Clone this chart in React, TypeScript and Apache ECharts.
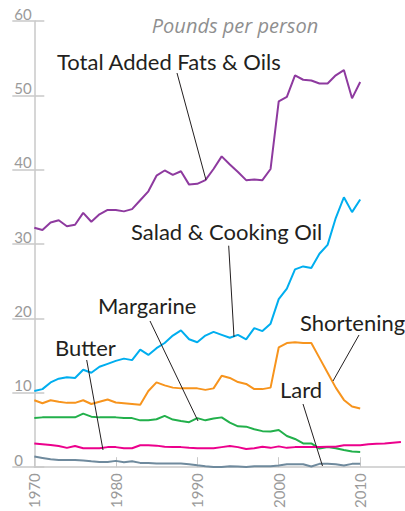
import React, { useEffect, useRef } from "react";
import * as echarts from "echarts";

const startYear = 1970;

const totalFatsOils = [32.2, 31.9, 32.9, 33.2, 32.4, 32.6, 34.2, 33.0, 34.0, 34.6, 34.6, 34.4, 34.7, 35.9, 37.1, 39.2, 39.9, 39.3, 39.8, 38.0, 38.1, 38.6, 40.1, 41.8, 40.7, 39.7, 38.6, 38.7, 38.6, 40.1, 49.2, 49.8, 52.7, 52.1, 52.0, 51.6, 51.6, 52.7, 53.4, 49.6, 51.8];
const saladCookingOil = [10.25, 10.5, 11.4, 11.9, 12.1, 12.0, 13.1, 12.7, 13.5, 13.9, 14.3, 14.6, 14.4, 15.8, 15.1, 16.0, 16.7, 17.7, 18.4, 17.2, 16.8, 17.7, 18.2, 17.8, 17.4, 17.8, 17.2, 18.7, 18.3, 19.3, 22.6, 24.0, 26.6, 27.0, 26.8, 28.7, 29.9, 33.5, 36.3, 34.3, 36.0];
const shortening = [9.0, 8.6, 9.0, 8.8, 8.65, 8.65, 9.0, 8.5, 8.8, 9.1, 8.7, 8.6, 8.5, 8.4, 10.25, 11.4, 11.0, 10.7, 10.6, 10.6, 10.6, 10.4, 10.6, 12.3, 12.0, 11.45, 11.2, 10.5, 10.5, 10.7, 16.1, 16.7, 16.8, 16.7, 16.7, 14.7, 12.7, 10.7, 9.05, 8.15, 7.9];
const margarine = [6.6, 6.7, 6.7, 6.7, 6.7, 6.7, 7.2, 6.8, 6.7, 6.7, 6.7, 6.6, 6.6, 6.3, 6.3, 6.45, 6.9, 6.4, 6.2, 6.05, 6.6, 6.3, 6.55, 6.7, 6.0, 5.5, 5.45, 5.1, 4.85, 4.8, 5.0, 4.2, 3.8, 3.2, 3.2, 2.5, 2.7, 2.55, 2.3, 2.1, 2.05];
const butter = [3.2, 3.1, 3.0, 2.85, 2.6, 2.85, 2.55, 2.55, 2.55, 2.7, 2.7, 2.55, 2.55, 2.95, 2.95, 2.9, 2.75, 2.7, 2.7, 2.6, 2.55, 2.55, 2.55, 2.7, 2.85, 2.7, 2.45, 2.55, 2.75, 2.6, 2.8, 2.6, 2.7, 2.7, 2.7, 2.7, 2.75, 2.75, 2.95, 2.95, 2.95, 3.1, 3.15, 3.2, 3.3, 3.4];
const lard = [1.43, 1.25, 1.07, 0.98, 0.98, 0.98, 0.9, 0.8, 0.71, 0.71, 0.85, 0.67, 0.8, 0.58, 0.58, 0.49, 0.49, 0.49, 0.49, 0.4, 0.25, 0.13, 0.04, 0.04, 0.13, 0.09, 0.04, 0.13, 0.13, 0.13, 0.22, 0.4, 0.4, 0.4, 0.09, 0.45, 0.45, 0.4, 0.22, 0.45, 0.45];

const seriesNames = ["Total Added Fats & Oils", "Salad & Cooking Oil", "Shortening", "Margarine", "Butter", "Lard"];
const seriesColors = ["#8e3a9f", "#00aeef", "#f7941d", "#22b04b", "#ec008c", "#6f8a9d"];
const seriesValues = [totalFatsOils, saladCookingOil, shortening, margarine, butter, lard];

const subtitle = "Pounds per person";

function toPairs(vals: number[]) {
  return vals.map((v, i) => [startYear + i, v]);
}

const FONT = "Lato, 'Open Sans', sans-serif";
const AXIS_GRAY = "#c9c9c9";
const LABEL_GRAY = "#9a9a9a";
const INK = "#231f20";

export default function App() {
  const ref = useRef<HTMLDivElement>(null);
  useEffect(() => {
    document.body.style.margin = "0";
    const chart = echarts.init(ref.current as HTMLDivElement, null, { renderer: "svg" });

    const labelTexts = [
      { text: seriesNames[0], x: 57, y: 61 },
      { text: seriesNames[1], x: 131, y: 231.5 },
      { text: seriesNames[3], x: 98, y: 305 },
      { text: seriesNames[4], x: 55, y: 347 },
      { text: seriesNames[2], x: 300, y: 322.5 },
      { text: seriesNames[5], x: 280, y: 389.5 },
    ];
    const leaders = [
      [177, 73, 206, 180],
      [228.7, 245.7, 234, 337],
      [150, 321, 198, 421],
      [86.7, 360, 103, 450],
      [359, 335, 333, 381],
      [303, 404, 322.5, 466],
    ];

    const graphic: any[] = [
      {
        type: "text",
        x: 235,
        y: 25.5,
        style: {
          text: subtitle,
          fontSize: 20,
          fontStyle: "italic",
          fontFamily: "'Open Sans', Lato, sans-serif",
          fill: "#8f8f8f",
          textAlign: "center",
          textVerticalAlign: "middle",
        },
      },
      ...labelTexts.map((t) => ({
        type: "text",
        x: t.x,
        y: t.y,
        z: 10,
        style: {
          text: t.text,
          fontSize: 22,
          fontFamily: FONT,
          fill: INK,
          textAlign: "left",
          textVerticalAlign: "middle",
        },
      })),
      ...leaders.map((l) => ({
        type: "line",
        z: 10,
        shape: { x1: l[0], y1: l[1], x2: l[2], y2: l[3] },
        style: { stroke: INK, lineWidth: 1 },
      })),
    ];

    chart.setOption({
      animation: false,
      grid: { left: 34.3, right: 0, top: 21, bottom: 41 },
      xAxis: {
        type: "value",
        min: 1970,
        max: 2015.5,
        interval: 10,
        axisLine: { lineStyle: { color: AXIS_GRAY, width: 1.5 } },
        axisTick: { show: true, inside: true, length: 10, lineStyle: { color: AXIS_GRAY } },
        axisLabel: {
          rotate: 90,
          color: LABEL_GRAY,
          fontSize: 15,
          fontFamily: FONT,
          margin: 6,
          showMaxLabel: false,
          formatter: (v: number) => String(v),
        },
        splitLine: { show: false },
      },
      yAxis: [
        {
          type: "value",
          min: 0,
          max: 60,
          interval: 10,
          axisLine: { show: true, lineStyle: { color: AXIS_GRAY, width: 1.5 } },
          axisTick: { show: true, length: 22, lineStyle: { color: AXIS_GRAY, width: 1.5 } },
          axisLabel: {
            align: "left",
            verticalAlign: "bottom",
            margin: 20,
            color: LABEL_GRAY,
            fontSize: 15,
            fontFamily: FONT,
          },
          splitLine: { show: false },
        },
        {
          type: "value",
          min: 0,
          max: 60,
          interval: 10,
          position: "left",
          axisLine: { show: false },
          axisTick: { show: true, inside: true, length: 10, lineStyle: { color: AXIS_GRAY, width: 1.5 } },
          axisLabel: { show: false },
          splitLine: { show: false },
        },
      ],
      series: seriesValues.map((vals, i) => ({
        type: "line",
        name: seriesNames[i],
        data: toPairs(vals),
        showSymbol: false,
        symbol: "none",
        yAxisIndex: 0,
        lineStyle: { color: seriesColors[i], width: 2 },
        itemStyle: { color: seriesColors[i] },
        z: 2 + i,
      })),
      graphic,
    });
    return () => chart.dispose();
  }, []);
  return <div ref={ref} style={{ width: 405, height: 511 }} />;
}
